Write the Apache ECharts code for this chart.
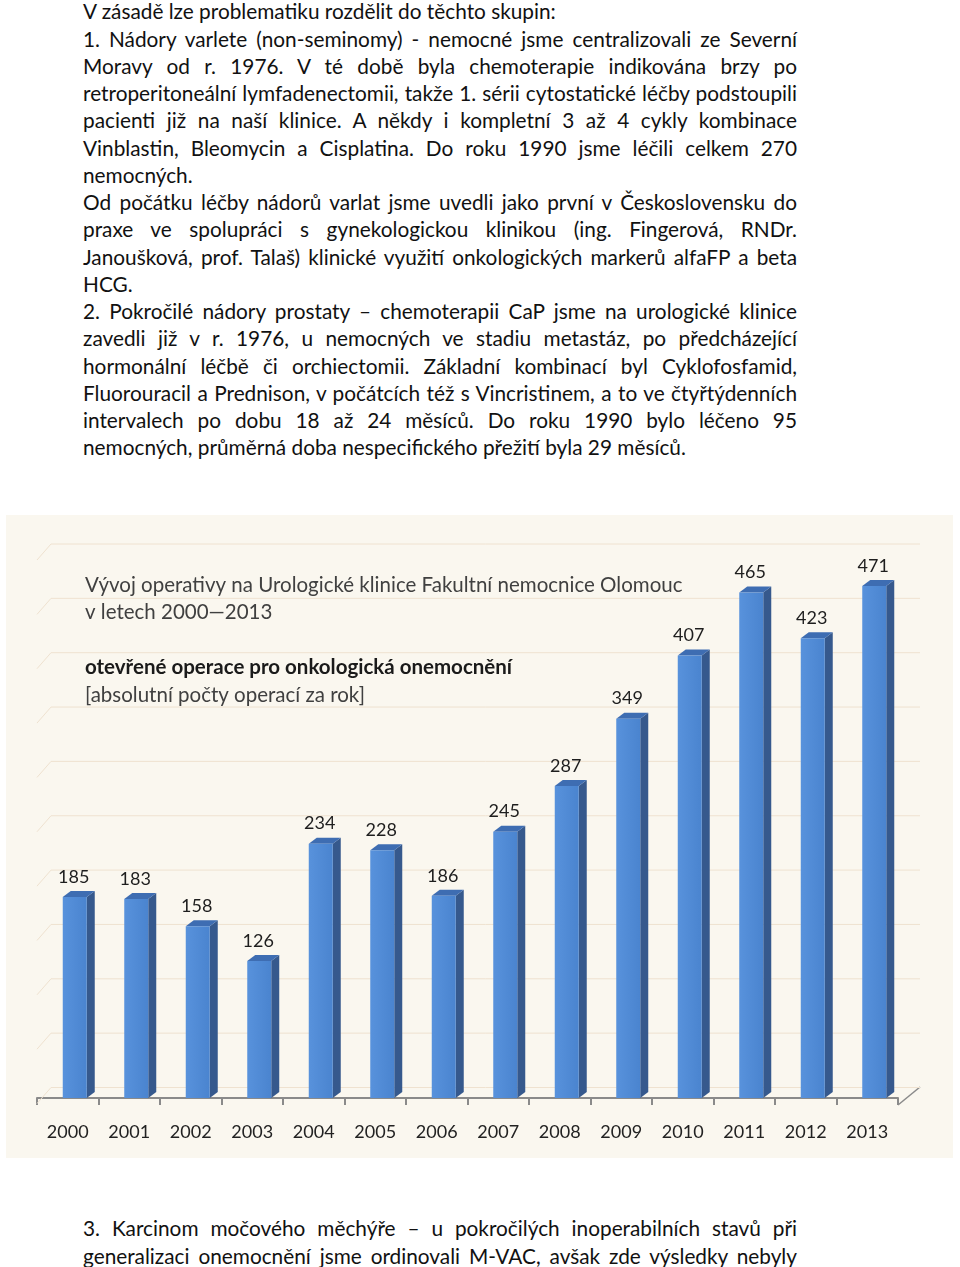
<!DOCTYPE html>
<html>
<head>
<meta charset="utf-8">
<script src="https://cdn.jsdelivr.net/npm/echarts@6/dist/echarts.min.js"></script>
<style>
  html, body { margin: 0; padding: 0; background: #ffffff; }
  body { width: 960px; height: 1267px; position: relative; overflow: hidden; font-family: Lato, "Noto Sans", sans-serif; color: #111; }
  .para { position: absolute; left: 83px; width: 714px; font-size: 20.8px; line-height: 27.25px; }
  .para div { white-space: nowrap; }
  .para .j { text-align: justify; text-align-last: justify; }
  #chart { position: absolute; left: 6px; top: 515px; width: 947px; height: 643px; }
</style>
</head>
<body>
<div class="para" id="p1" style="top:-2.6px">
  <div>V zásadě lze problematiku rozdělit do těchto skupin:</div>
  <div class="j">1. Nádory varlete (non-seminomy) - nemocné jsme centralizovali ze Severní</div>
  <div class="j">Moravy od r. 1976. V té době byla chemoterapie indikována brzy po</div>
  <div class="j">retroperitoneální lymfadenectomii, takže 1. sérii cytostatické léčby podstoupili</div>
  <div class="j">pacienti již na naší klinice. A někdy i kompletní 3 až 4 cykly kombinace</div>
  <div class="j">Vinblastin, Bleomycin a Cisplatina. Do roku 1990 jsme léčili celkem 270</div>
  <div>nemocných.</div>
  <div class="j">Od počátku léčby nádorů varlat jsme uvedli jako první v Československu do</div>
  <div class="j">praxe ve spolupráci s gynekologickou klinikou (ing. Fingerová, RNDr.</div>
  <div class="j">Janoušková, prof. Talaš) klinické využití onkologických markerů alfaFP a beta</div>
  <div>HCG.</div>
  <div class="j">2. Pokročilé nádory prostaty – chemoterapii CaP jsme na urologické klinice</div>
  <div class="j">zavedli již v r. 1976, u nemocných ve stadiu metastáz, po předcházející</div>
  <div class="j">hormonální léčbě či orchiectomii. Základní kombinací byl Cyklofosfamid,</div>
  <div class="j">Fluorouracil a Prednison, v počátcích též s Vincristinem, a to ve čtyřtýdenních</div>
  <div class="j">intervalech po dobu 18 až 24 měsíců. Do roku 1990 bylo léčeno 95</div>
  <div>nemocných, průměrná doba nespecifického přežití byla 29 měsíců.</div>
</div>
<div class="para" id="p2" style="top:1214.4px">
  <div class="j">3. Karcinom močového měchýře – u pokročilých inoperabilních stavů při</div>
  <div class="j">generalizaci onemocnění jsme ordinovali M-VAC, avšak zde výsledky nebyly</div>
</div>
<div id="chart"></div>
<script>
// ---- data ----
var years = ['2000','2001','2002','2003','2004','2005','2006','2007','2008','2009','2010','2011','2012','2013'];
var operations = [185, 183, 158, 126, 234, 228, 186, 245, 287, 349, 407, 465, 423, 471];
var gridValues = [0, 50, 100, 150, 200, 250, 300, 350, 400, 450, 500];
var titleLines = ['Vývoj operativy na Urologické klinice Fakultní nemocnice Olomouc', 'v letech 2000—2013'];
var subtitleBold = 'otevřené operace pro onkologická onemocnění';
var subtitleNote = '[absolutní počty operací za rok]';

// shrink any justified line that would overflow
document.querySelectorAll('.para .j').forEach(function (el) {
  var ls = 0;
  while (el.scrollWidth > el.clientWidth + 0.5 && ls > -2) {
    ls -= 0.05;
    el.style.letterSpacing = ls + 'px';
  }
});

var chart = echarts.init(document.getElementById('chart'), null, { renderer: 'canvas' });
var FONT = 'Lato, "Noto Sans", sans-serif';

function wallItem(params, api) {
  var cs = params.coordSys;
  var v = api.value(0);
  var p = api.coord([0, v]);
  var y = p[1];
  var x0 = cs.x;
  var x1 = cs.x + cs.width + 22;
  return {
    type: 'polyline',
    shape: { points: [[x0, y + 5.5], [x0 + 14, y - 10.5], [x1, y - 10.5]] },
    style: { stroke: '#efe2d0', lineWidth: 1, fill: null },
    silent: true
  };
}

function barItem(params, api) {
  var i = api.value(0);
  var v = api.value(1);
  var top = api.coord([i, v]);
  var base = api.coord([i, 0]);
  var L = top[0] - 5, R = top[0] + 19;
  var T = top[1], B = base[1];
  var dx = 8, dy = -6;
  return {
    type: 'group',
    children: [
      { type: 'polygon', shape: { points: [[R, T], [R + dx, T + dy], [R + dx, B + dy], [R, B]] },
        style: { fill: '#36598d' } },
      { type: 'polygon', shape: { points: [[L, T], [R, T], [R + dx, T + dy], [L + dx, T + dy]] },
        style: { fill: '#3e6db2' } },
      { type: 'rect', shape: { x: L, y: T, width: R - L, height: B - T },
        style: { fill: new echarts.graphic.LinearGradient(0, 0, 1, 0, [
          { offset: 0, color: '#5892dc' }, { offset: 1, color: '#4a84cf' }]) } },
      { type: 'text', x: top[0] + 6, y: T - 20,
        style: { text: String(v), fill: '#1e1e1e', font: '18px ' + FONT, align: 'center', verticalAlign: 'middle' } }
    ]
  };
}

var option = {
  backgroundColor: '#faf7ef',
  animation: false,
  grid: { left: 31, width: 861, top: 39.5, bottom: 60 },
  xAxis: {
    type: 'category',
    data: years,
    offset: 7,
    boundaryGap: true,
    axisLine: { lineStyle: { color: '#8a8a8a', width: 2 } },
    axisTick: { show: true, length: 7, lineStyle: { color: '#8a8a8a', width: 2 }, alignWithLabel: false },
    axisLabel: { color: '#222', fontSize: 18, fontFamily: FONT, margin: 18 }
  },
  yAxis: {
    type: 'value', min: 0, max: 500, interval: 50,
    axisLine: { show: false }, axisTick: { show: false }, axisLabel: { show: false }, splitLine: { show: false }
  },
  graphic: [
    { type: 'polyline', silent: true,
      shape: { points: [[892, 590], [914, 572]] },
      style: { stroke: '#8a8a8a', lineWidth: 1.5, fill: null } },
    { type: 'text', left: 79, top: 60, style: { text: titleLines[0], fill: '#404040', font: '20.5px ' + FONT } },
    { type: 'text', left: 79, top: 87, style: { text: titleLines[1], fill: '#404040', font: '20.5px ' + FONT } },
    { type: 'text', left: 79, top: 142, style: { text: subtitleBold, fill: '#1a1a1a', font: 'bold 20.5px ' + FONT } },
    { type: 'text', left: 79, top: 170, style: { text: subtitleNote, fill: '#404040', font: '20.5px ' + FONT } }
  ],
  series: [
    { type: 'custom', name: 'wall', data: gridValues.map(function (g) { return [g]; }),
      encode: { y: 0 }, renderItem: wallItem, silent: true, z: 1 },
    { type: 'custom', name: 'operace', data: operations.map(function (v, i) { return [i, v]; }),
      encode: { x: 0, y: 1 }, renderItem: barItem, z: 3 }
  ]
};
chart.setOption(option);
</script>
</body>
</html>
